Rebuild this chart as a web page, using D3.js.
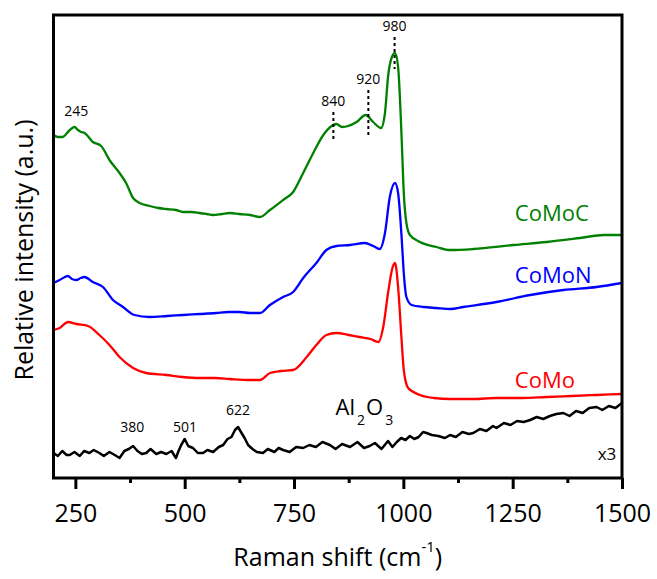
<!DOCTYPE html>
<html>
<head>
<meta charset="utf-8">
<script src="https://cdn.jsdelivr.net/npm/d3@7"></script>
<style>
  body { margin: 0; background: #fff; }
  text { font-family: "Open Sans", sans-serif; }
</style>
</head>
<body>
<div id="chart"></div>
<script>
// spectra: [wavenumber, relative intensity]
var comocData = [
  [200,343],[210,341],[221,341],[235,347],[248,351],[256,348],[263,346],[271,345],
  [290,336],[309,332],[328,318],[351,305],[366,295],[382,280],[397,275],[420,272],
  [440,270],[458,269],[480,268],[496,266],[515,266],[534,265],[550,264],[565,263],
  [585,264],[603,265],[625,264],[649,263],[672,261],[695,268],[725,278],[748,286],
  [771,305],[794,325],[817,343],[836,352],[847,354],[860,351],[874,352],[893,356],
  [914,363],[931,356],[949,350],[958,365],[965,401],[973,420],[981,425],[988,411],
  [996,341],[1001,285],[1007,255],[1015,243],[1038,236],[1076,231],[1107,228],
  [1160,229],[1252,233],[1328,236],[1404,240],[1458,243],[1500,243]
];
var comonData = [
  [200,195],[214,198],[233,202],[242,199],[252,198],[262,200],[271,201],[290,196],
  [313,191],[336,178],[359,171],[385,163],[420,161],[460,162],[496,163],[535,164],
  [572,165],[600,166],[626,166],[649,165],[672,165],[695,173],[725,181],[748,186],
  [771,200],[801,215],[824,228],[847,232],[878,233],[912,235],[931,232],[946,229],
  [958,245],[969,281],[981,295],[988,285],[996,241],[1001,205],[1007,181],[1019,173],
  [1046,171],[1075,170],[1107,169],[1137,171],[1213,176],[1290,183],[1366,188],
  [1442,191],[1500,195]
];
var comoData = [
  [200,148],[214,150],[233,156],[252,154],[279,152],[305,143],[328,133],[351,121],
  [382,110],[412,105],[458,103],[495,101],[534,100],[570,100],[603,99],[649,98],
  [672,98],[695,105],[720,107],[748,108],[779,121],[801,133],[824,143],[847,145],
  [875,143],[900,141],[925,139],[943,136],[954,151],[965,185],[975,210],[981,215],
  [988,191],[996,138],[1001,108],[1011,90],[1038,83],[1070,80],[1107,79],[1160,79],
  [1213,80],[1270,80],[1328,81],[1385,82],[1442,83],[1500,84]
];
var al2o3Data = [
  [200,25],[210,22],[220,27],[230,23],[237,23],[248,26],[260,22],[270,27],[282,25],
  [292,28],[305,25],[315,22],[328,26],[340,23],[351,20],[362,27],[372,29],[382,32],
  [392,27],[402,24],[412,25],[422,29],[435,24],[446,26],[458,24],[470,27],[480,20],
  [485,26],[492,33],[500,39],[508,32],[519,30],[530,25],[542,25],[552,28],[565,26],
  [578,31],[588,33],[598,39],[607,41],[615,48],[622,51],[630,45],[637,40],[645,33],
  [655,29],[665,26],[679,25],[690,29],[705,26],[715,30],[725,28],[740,26],[755,31],
  [771,30],[785,33],[800,31],[815,36],[832,33],[845,29],[860,34],[878,31],[895,36],
  [910,30],[923,32],[935,35],[950,29],[965,37],[975,31],[985,36],[995,40],[1005,38],
  [1015,42],[1025,39],[1035,41],[1045,46],[1053,45],[1065,43],[1080,42],[1095,40],
  [1107,43],[1120,41],[1135,46],[1150,44],[1160,45],[1175,49],[1190,47],[1205,52],
  [1213,50],[1230,55],[1245,53],[1260,57],[1275,56],[1290,58],[1305,61],[1320,59],
  [1335,62],[1350,64],[1366,65],[1380,62],[1395,67],[1410,65],[1425,70],[1442,71],
  [1455,68],[1470,72],[1485,70],[1500,75]
];

var majorTicks = [250, 500, 750, 1000, 1250, 1500];
var minorTicks = [375, 625, 875, 1125, 1375];
var peakMarks = [840, 920, 980];           // dotted markers on CoMoC
var peakLabels = ["840", "920", "980"];
var aluminaPeaks = ["380", "501", "622"];

var width = 657, height = 579;
var margin = {top: 15, right: 35, bottom: 101, left: 53.5};

var x = d3.scaleLinear()
  .domain([200, 1500])
  .range([margin.left, width - margin.right]);

var y = d3.scaleLinear()
  .domain([0, 463])
  .range([height - margin.bottom, margin.top]);

var svg = d3.select("#chart")
  .append("svg")
  .attr("width", width)
  .attr("height", height);

var smooth = d3.line()
  .x(d => x(d[0]))
  .y(d => y(d[1]))
  .curve(d3.curveMonotoneX);

var jagged = d3.line()
  .x(d => x(d[0]))
  .y(d => y(d[1]));

var series = [
  {data: al2o3Data, color: "#000000", w: 2.5, gen: jagged},
  {data: comoData, color: "#ff0000", w: 2.3, gen: smooth},
  {data: comonData, color: "#0000ff", w: 2.3, gen: smooth},
  {data: comocData, color: "#008000", w: 2.3, gen: smooth}
];

svg.append("g")
  .selectAll("path")
  .data(series)
  .join("path")
  .attr("fill", "none")
  .attr("stroke", d => d.color)
  .attr("stroke-width", d => d.w)
  .attr("stroke-linejoin", "round")
  .attr("d", d => d.gen(d.data));

// x axis: major + minor ticks
var xAxis = svg.append("g")
  .attr("transform", `translate(0,${height - margin.bottom})`)
  .call(d3.axisBottom(x).tickValues(majorTicks).tickSize(11).tickSizeOuter(0).tickPadding(15)
    .tickFormat(d3.format("d")));
xAxis.select(".domain").remove();
xAxis.selectAll("line").attr("stroke-width", 3);
xAxis.selectAll("text").attr("font-size", 25).attr("font-family", "Open Sans").attr("fill", "#000");

var xMinor = svg.append("g")
  .attr("transform", `translate(0,${height - margin.bottom})`)
  .call(d3.axisBottom(x).tickValues(minorTicks).tickSize(5).tickFormat(""));
xMinor.select(".domain").remove();
xMinor.selectAll("line").attr("stroke-width", 3);

// frame
svg.append("rect")
  .attr("x", margin.left)
  .attr("y", margin.top)
  .attr("width", width - margin.right - margin.left)
  .attr("height", height - margin.bottom - margin.top)
  .attr("fill", "none")
  .attr("stroke", "#000")
  .attr("stroke-width", 3);

// axis titles
var xt = svg.append("text")
  .attr("x", (margin.left + width - margin.right) / 2)
  .attr("y", 566)
  .attr("text-anchor", "middle")
  .attr("font-size", 25);
xt.append("tspan").text("Raman shift (cm");
xt.append("tspan").attr("font-size", 15).attr("dy", -14).text("-1");
xt.append("tspan").attr("dy", 14).text(")");

svg.append("text")
  .attr("transform", "translate(33,250) rotate(-90)")
  .attr("text-anchor", "middle")
  .attr("font-size", 25)
  .text("Relative intensity (a.u.)");

// dotted peak markers on CoMoC
var markTops = [y(366), y(388), y(441)];
var markBots = [y(336), y(343), y(409)];
svg.append("g")
  .selectAll("line")
  .data(peakMarks)
  .join("line")
  .attr("x1", d => x(d)).attr("x2", d => x(d))
  .attr("y1", (d, i) => markTops[i]).attr("y2", (d, i) => markBots[i])
  .attr("stroke", "#000")
  .attr("stroke-width", 2)
  .attr("stroke-dasharray", "3,3");

svg.append("g")
  .selectAll("text")
  .data(peakLabels)
  .join("text")
  .attr("x", (d, i) => x(peakMarks[i]))
  .attr("y", (d, i) => markTops[i] - 6)
  .attr("text-anchor", "middle")
  .attr("font-size", 14)
  .text(d => d);

svg.append("text")
  .attr("x", x(252)).attr("y", y(362))
  .attr("text-anchor", "middle")
  .attr("font-size", 14)
  .text("245");

svg.append("g")
  .selectAll("text")
  .data(aluminaPeaks)
  .join("text")
  .attr("x", d => x(+d))
  .attr("y", (d, i) => i === 2 ? y(63) : y(46))
  .attr("text-anchor", "middle")
  .attr("font-size", 14)
  .text(d => d);

// Al2O3 label
var al = svg.append("text")
  .attr("x", x(845)).attr("y", y(63))
  .attr("font-size", 22);
al.append("tspan").text("Al");
al.append("tspan").attr("font-size", 14).attr("dy", 10).attr("dx", 2).text("2");
al.append("tspan").attr("dy", -10).attr("dx", 1).text("O");
al.append("tspan").attr("font-size", 14).attr("dy", 10).attr("dx", 2).text("3");

// series labels
var seriesLabels = [
  {t: "CoMoC", c: "#008000", v: 257},
  {t: "CoMoN", c: "#0000ff", v: 195},
  {t: "CoMo", c: "#ff0000", v: 90}
];
svg.append("g")
  .selectAll("text")
  .data(seriesLabels)
  .join("text")
  .attr("x", x(1255))
  .attr("y", d => y(d.v))
  .attr("font-size", 22)
  .attr("fill", d => d.c)
  .text(d => d.t);

svg.append("text")
  .attr("x", x(1487)).attr("y", y(18))
  .attr("text-anchor", "end")
  .attr("font-size", 17)
  .text("x3");
</script>
</body>
</html>
